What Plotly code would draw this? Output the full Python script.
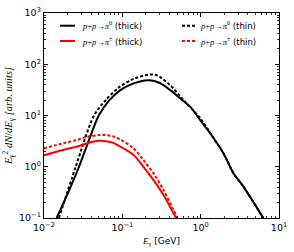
import plotly.graph_objects as go

# --- data (E in GeV, E^2 dN/dE in arb. units) ---
pi0_thick_E = [0.0145, 0.021, 0.028, 0.038, 0.050, 0.0676, 0.0935, 0.125, 0.168, 0.222, 0.30, 0.406, 0.603, 0.733, 1.0, 1.32, 1.95, 2.62, 3.51, 6.3]
pi0_thick_y = [0.1, 0.35, 1.0, 3.5, 10.0, 19.5, 31.0, 39.5, 46.0, 48.5, 43.0, 31.6, 19.1, 14.9, 7.9, 4.5, 1.84, 0.75, 0.41, 0.1]

pi0_thin_E = [0.0155, 0.0254, 0.0436, 0.0615, 0.09, 0.14, 0.22, 0.275, 0.40, 0.603, 1.0, 1.5, 1.95, 2.62, 3.51, 6.3]
pi0_thin_y = [0.1, 1.0, 10.0, 20.0, 35.0, 52.0, 63.0, 61.0, 40.0, 20.0, 8.6, 3.4, 1.84, 0.75, 0.41, 0.1]

pic_thick_E = [0.01, 0.018, 0.0266, 0.035, 0.05, 0.065, 0.078, 0.093, 0.138, 0.185, 0.249, 0.334, 0.448, 0.485]
pic_thick_y = [1.67, 2.14, 2.48, 2.85, 3.2, 3.1, 2.89, 2.5, 1.71, 1.01, 0.556, 0.283, 0.125, 0.1]

pic_thin_E = [0.01, 0.018, 0.0266, 0.035, 0.05, 0.063, 0.078, 0.093, 0.138, 0.185, 0.249, 0.334, 0.448, 0.50]
pic_thin_y = [2.3, 2.9, 3.34, 3.8, 4.15, 4.15, 3.88, 3.45, 2.3, 1.36, 0.75, 0.355, 0.145, 0.1]

x_tickvals = [0.01, 0.1, 1, 10]
x_ticktext = ["10<sup>−2</sup>", "10<sup>−1</sup>", "10<sup>0</sup>", "10<sup>1</sup>"]
y_tickvals = [0.1, 1, 10, 100, 1000]
y_ticktext = ["10<sup>−1</sup>", "10<sup>0</sup>", "10<sup>1</sup>", "10<sup>2</sup>", "10<sup>3</sup>"]

MATH = "font-family:'Liberation Serif'"
legend_labels = [
    f"<span style=\"{MATH}\"><i>p</i>+<i>p</i>→<i>π</i><sup>0</sup></span> (thick)",
    f"<span style=\"{MATH}\"><i>p</i>+<i>p</i>→<i>π</i><sup>±</sup></span> (thick)",
    f"<span style=\"{MATH}\"><i>p</i>+<i>p</i>→<i>π</i><sup>0</sup></span> (thin)",
    f"<span style=\"{MATH}\"><i>p</i>+<i>p</i>→<i>π</i><sup>±</sup></span> (thin)",
]

DASH = "3px,2px"
fig = go.Figure()
series = [
    (pi0_thick_E, pi0_thick_y, "black", "solid"),
    (pi0_thin_E, pi0_thin_y, "black", DASH),
    (pic_thick_E, pic_thick_y, "red", "solid"),
    (pic_thin_E, pic_thin_y, "red", DASH),
]
for xs, ys, col, dash in series:
    fig.add_trace(go.Scatter(x=xs, y=ys, mode="lines",
                             line=dict(color=col, width=2, dash=dash, shape="spline", smoothing=0.9),
                             showlegend=False, hoverinfo="skip"))

W, H = 294, 252
# plot area in window pixels
L, R, T, B = 44, 279, 13, 218

def px(x):
    return (x - L) / (R - L)
def py(y):
    return (B - y) / (B - T)

leg = [
    (60, 75, 82, 25.7, "black", "solid", legend_labels[0]),
    (60, 75, 82, 41.0, "red", "solid", legend_labels[1]),
    (182, 196, 200, 25.7, "black", DASH, legend_labels[2]),
    (182, 196, 200, 41.0, "red", DASH, legend_labels[3]),
]
for x0, x1, tx, yy, col, dash, lab in leg:
    fig.add_shape(type="line", xref="paper", yref="paper", x0=px(x0), x1=px(x1), y0=py(yy), y1=py(yy),
                  line=dict(color=col, width=2, dash=dash))
    fig.add_annotation(xref="paper", yref="paper", x=px(tx), y=py(yy), text=lab, showarrow=False,
                       xanchor="left", yanchor="middle", xshift=-2,
                       font=dict(size=8.5, family="DejaVu Sans", color="black"))

axis_common = dict(type="log", showline=True, linecolor="black", linewidth=1.2, mirror="allticks",
                   ticks="inside", ticklen=4, tickwidth=1, tickcolor="black", showgrid=False, zeroline=False,
                   automargin=False, tickfont=dict(family="DejaVu Sans", size=9.5, color="black"),
                   minor=dict(ticks="inside", ticklen=2, tickwidth=0.8, tickcolor="black", showgrid=False,
                              dtick="D1"))

fig.update_xaxes(range=[-2, 1], tickmode="array", tickvals=x_tickvals, ticktext=x_ticktext, **axis_common,
                 title=dict(text=f"<span style=\"{MATH}\"><i>E</i><sub>γ</sub></span> [GeV]",
                            font=dict(family="DejaVu Sans", size=9, color="black"), standoff=6))
fig.update_yaxes(range=[-1, 3], tickmode="array", tickvals=y_tickvals, ticktext=y_ticktext, **axis_common,
                 title=dict(text="<i>E</i><sub>γ</sub><sup>2</sup><i> dN</i>/<i>dE</i><sub>γ</sub> <i>[arb. units]</i>",
                            font=dict(family="Liberation Serif", size=10.5, color="black"), standoff=4))

fig.update_layout(width=W, height=H,
                  margin=dict(l=L, r=W - R, t=T, b=H - B),
                  plot_bgcolor="white", paper_bgcolor="white", hovermode=False)
# remove the default 8px page margin so the figure sits at the window's top-left corner
fig.write_html("out.html", config={"displayModeBar": False, "staticPlot": True},
               post_script="document.body.style.margin='0';")
